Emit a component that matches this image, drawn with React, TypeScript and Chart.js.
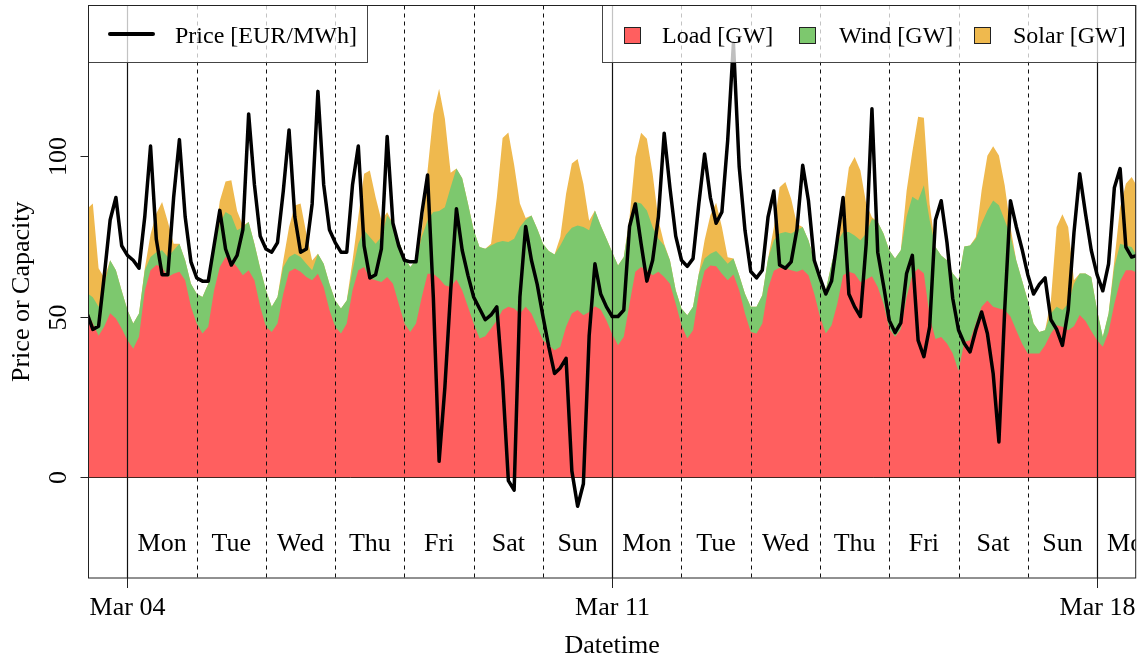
import React, { useEffect, useRef } from 'react';
import { Chart, registerables } from 'chart.js';

Chart.register(...registerables);

// Two-hourly samples, first sample = Mar 03 10:00 (hours counted from Mar 04 00:00)
const startHour = -14;
const stepHours = 2;

const load = [
  51.5, 47.8, 44, 47, 51, 49.4, 46.3,
  42.6, 40, 43.7, 58, 64.4, 66, 65.4, 62.3, 63.3, 63.9, 61.3, 53,
  47.8, 44.7, 46.8, 58, 65.4, 68.5, 67.5, 65.4, 62.8, 64.4, 61.3, 53,
  46.8, 45.2, 47.8, 57.1, 63.9, 64.9, 63.9, 62.3, 61.3, 63.3, 59.2, 52,
  46.8, 44.7, 47.8, 58.2, 64.4, 65.4, 61.8, 61.3, 60.7, 62.3, 60.2, 54,
  47.8, 45.2, 47.8, 56.1, 63.3, 63.3, 61.8, 59.7, 59.2, 61.5, 58.2, 53,
  47.8, 43.2, 43.9, 46.3, 48.8, 52, 53, 52.5, 50.9, 53, 50.9, 46.8,
  42.6, 41.1, 39.5, 40.6, 46.8, 50.9, 52, 50.4, 51.4, 53.2, 52.2, 48.8,
  44.5, 41.1, 43.7, 54, 63.9, 65.4, 64.4, 62.8, 63.9, 62.3, 60.2, 54,
  47.3, 43.2, 45.7, 57.1, 64.2, 65.9, 65.6, 63.3, 61.3, 63.1, 58.2, 50.9,
  45.2, 44.7, 47.8, 58.7, 64.2, 65.2, 64.9, 64.4, 63.9, 64.6, 62.8, 57.1,
  49.9, 44.7, 47.3, 54, 62.8, 63.9, 63.3, 60.7, 61.5, 62.5, 59.2, 54,
  46.3, 43.7, 46, 56, 63, 64.9, 63.4, 50, 43, 43.6, 41.6, 38.5,
  33, 42.1, 42.6, 47.8, 53, 55, 53, 52.5, 52, 50, 45.7, 41.6,
  38.5, 38.5, 38.5, 41.1, 44.7, 47.3, 46.8, 45.7, 47, 50.5, 48.6, 45.5,
  42.6, 40.6, 45.2, 54, 61, 64.4, 64.4, 63.6,
];

const wind = [
  5.8, 8.2, 9, 13, 16.5, 15, 11.7,
  9.4, 7.8, 7.2, 6.4, 4.1, 4, 5.2, 6.2, 7.3, 8.7, 6.2, 7.2,
  9.3, 11.4, 13.4, 13.6, 13.5, 14, 13.9, 11.4, 15, 15, 11.3, 12,
  11.4, 7.8, 8.3, 8.3, 4.6, 4.6, 4.6, 4.1, 3.1, 6.2, 7.2, 8.2,
  8.2, 7.8, 7.2, 6.2, 8.2, 11.4, 12.9, 11.3, 14, 19.1, 18.7, 19.7,
  20.7, 20.2, 19.7, 18.6, 16.6, 19.2, 21, 24.3, 31, 34.5, 34.8, 32.1,
  29, 28.4, 27.2, 25.8, 24.2, 21.5, 20.2, 21.7, 26.9, 27.1, 30.5, 30.5,
  30, 29.3, 29.8, 31.5, 28.7, 26.7, 26.3, 27.4, 25.4, 29.8, 26.1, 25.4,
  25.5, 24.8, 24.8, 25.9, 21.7, 19.7, 18.6, 15, 10.3, 9.8, 7.3, 4.2,
  5.2, 7.2, 7.3, 6.2, 3.8, 3.6, 4.8, 5.2, 5.1, 4.9, 4.6, 6.2,
  7.8, 8.3, 8.8, 9.3, 9.5, 10.6, 11.4, 11.4, 12.9, 13.2, 10.9, 10.4,
  11.4, 13.5, 19.1, 19.2, 13.5, 12.4, 11.9, 13, 14.3, 17.9, 20.2, 21.8,
  24.3, 24.3, 24.6, 25, 24.2, 21.2, 27.4, 29.9, 28.6, 25.4, 25.9, 24.9,
  28.3, 29.7, 29.5, 26.4, 25.9, 28, 33.1, 32.1, 27.9, 25.2, 21.8, 19.7,
  16.5, 9.3, 6.7, 4.6, 6.2, 5.7, 5.2, 8.3, 13.2, 12.9, 14.8, 16.8,
  9.4, 3, 5.7, 11.4, 11.6, 7.7, 7.2, 4.9,
];

const solar = [
  26.2, 29.1, 12, 2, 0, 0, 0,
  0, 0, 0, 0.5, 7, 12, 15, 11, 2, 0, 0, 0,
  0, 0, 0, 0.5, 7, 9.5, 11, 6, 0.5, 0, 0, 0,
  0, 0, 0, 2, 9.3, 15, 16.6, 9.4, 3, 0, 0, 0,
  0, 0, 0, 3, 8.4, 17.6, 20.7, 14.5, 5.2, 1, 0, 0,
  0, 0, 0, 2, 15.5, 30.5, 38, 27.5, 4.5, 0, 0, 0,
  0, 0, 0, 0.5, 14, 32, 34, 23, 7.3, 0.5, 0, 0,
  0, 0, 0, 2.6, 12.7, 20, 20.7, 13.5, 3, 0, 0, 0,
  0, 0, 0, 1, 14, 22, 22.3, 16.6, 5.7, 0.5, 0, 0,
  0, 0, 0, 0, 5.7, 12, 15, 9.3, 2, 0, 0, 0,
  0, 0, 0, 0, 4, 14.4, 15.5, 10.8, 2, 0, 0, 0,
  0, 0, 0, 0, 6.7, 20, 24.4, 21.7, 9.3, 0.5, 0, 0,
  0, 0, 0, 8, 14, 26, 21, 5, 0, 0, 0, 0,
  0, 0, 0, 0.5, 10.3, 17, 16.8, 15.5, 10.9, 2.6, 0, 0,
  0, 0, 0, 0, 4, 24.8, 29.8, 23.8, 1.1, 0, 0, 0,
  0, 0, 0, 2, 11.4, 19.2, 21.8, 21.8,
];

const price = [
  51, 46, 47, 63, 80, 87, 72,
  69, 67.5, 65, 81, 103, 74, 63, 63, 87, 105, 81, 67,
  62, 61, 61, 72, 83, 71, 66, 69, 77, 113, 91, 75,
  71, 70, 73, 89, 108, 81, 70, 71, 85, 120, 91, 77,
  73, 70, 70, 91, 103, 72, 62, 63, 71, 106, 79, 72,
  67.5, 67, 67, 82, 94, 56, 5, 28, 58, 83.5, 70.6, 62.8,
  56, 52.5, 49, 50.5, 53, 30, -1, -4, 56, 78, 67.5, 60,
  50, 40.6, 32.3, 34, 37, 2, -9, -2, 44, 66.4, 57, 53,
  50, 50, 52, 78, 85, 72.6, 61, 67.5, 81, 107, 90, 75,
  67.5, 65.6, 68, 85, 100.5, 87, 79, 82.5, 104.7, 135, 96.5, 76.8,
  64, 62, 64.4, 81, 89, 66, 65, 67, 77, 97, 86, 67.5,
  62, 57, 61, 74, 87, 57, 53, 50, 72.6, 114.6, 70, 59.7,
  48.8, 45, 48, 63.4, 69, 42.6, 37.5, 46.8, 80, 86, 73, 55.6,
  45.8, 41.6, 39, 45.8, 51.4, 44.7, 32.3, 11, 52, 86, 78, 71,
  63, 57, 60, 62, 49, 46, 41, 52, 76, 94.4, 82, 70.6,
  63, 58, 66.4, 90, 96, 71.6, 68.5, 69,
];

const hours = load.map((_, i) => startHour + i * stepHours);

const yTicks = [0, 50, 100];
const xTickHours = [0, 168, 336];
const xTickLabels = ['Mar 04', 'Mar 11', 'Mar 18'];
const dayNames = ['Mon', 'Tue', 'Wed', 'Thu', 'Fri', 'Sat', 'Sun'];
const dayCount = 15;
const seriesLabels = ['Load [GW]', 'Wind [GW]', 'Solar [GW]'];
const priceLabel = 'Price [EUR/MWh]';

const RED = '#FF5F5F';
const GREEN = '#7DC86E';
const ORANGE = '#EFB94E';
const SERIF = '"Liberation Serif", "Times New Roman", Times, serif';

const toPoints = (vals: number[]) => vals.map((v, i) => ({ x: hours[i], y: v }));

function strokeLine(ctx: CanvasRenderingContext2D, x1: number, y1: number, x2: number, y2: number) {
  ctx.beginPath();
  ctx.moveTo(x1, y1);
  ctx.lineTo(x2, y2);
  ctx.stroke();
}

const rPlugin = {
  id: 'rStyle',
  beforeDatasetDraw(chart: any, args: any) {
    if (args.index !== 3) return;
    const { ctx, chartArea: a, scales } = chart;
    const xs = scales.x;
    const ys = scales.y;
    ctx.save();
    ctx.beginPath();
    ctx.rect(a.left, a.top, a.right - a.left, a.bottom - a.top);
    ctx.clip();
    // zero line
    const y0 = ys.getPixelForValue(0);
    ctx.strokeStyle = 'rgba(40,10,10,0.85)';
    ctx.lineWidth = 1;
    strokeLine(ctx, a.left, Math.round(y0) + 0.5, a.right, Math.round(y0) + 0.5);
    // day boundaries
    for (let d = 0; d <= dayCount; d++) {
      const px = Math.round(xs.getPixelForValue(d * 24)) + 0.5;
      if (px < a.left || px > a.right) continue;
      ctx.strokeStyle = '#111';
      if (d % 7 === 0) {
        ctx.setLineDash([]);
        ctx.lineWidth = 1.2;
      } else {
        ctx.setLineDash([4, 4]);
        ctx.lineWidth = 1;
      }
      strokeLine(ctx, px, a.top, px, a.bottom);
    }
    ctx.setLineDash([]);
    // day labels
    ctx.fillStyle = '#000';
    ctx.font = `26px ${SERIF}`;
    ctx.textAlign = 'center';
    ctx.textBaseline = 'alphabetic';
    for (let d = 0; d < dayCount; d++) {
      const px = xs.getPixelForValue(d * 24 + 12);
      ctx.fillText(dayNames[d % 7], px, 551);
    }
    ctx.restore();
  },
  afterDraw(chart: any) {
    const { ctx, chartArea: a, scales } = chart;
    const xs = scales.x;
    const ys = scales.y;
    ctx.save();
    // legends (semi transparent)
    const lTop = a.top;
    const lBot = 62.5;
    ctx.fillStyle = 'rgba(255,255,255,0.75)';
    ctx.fillRect(a.left, lTop, 367.5 - a.left, lBot - lTop);
    ctx.fillRect(602.5, lTop, a.right - 602.5, lBot - lTop);
    ctx.strokeStyle = '#444';
    ctx.lineWidth = 1;
    ctx.strokeRect(a.left, lTop, 367.5 - a.left, lBot - lTop);
    ctx.strokeRect(602.5, lTop, a.right - 602.5, lBot - lTop);
    // price legend entry
    ctx.strokeStyle = '#000';
    ctx.lineWidth = 4;
    ctx.lineCap = 'round';
    strokeLine(ctx, 110, 34, 153, 34);
    ctx.lineCap = 'butt';
    ctx.fillStyle = '#000';
    ctx.font = `24px ${SERIF}`;
    ctx.textAlign = 'left';
    ctx.textBaseline = 'alphabetic';
    ctx.fillText(priceLabel, 175, 42.5);
    // capacity legend entries
    const boxX = [624, 799, 974];
    const textX = [662, 839, 1013];
    const cols = [RED, GREEN, ORANGE];
    ctx.lineWidth = 1;
    for (let i = 0; i < 3; i++) {
      ctx.fillStyle = cols[i];
      ctx.fillRect(boxX[i] + 0.5, 27.5, 16, 16);
      ctx.strokeStyle = '#222';
      ctx.strokeRect(boxX[i] + 0.5, 27.5, 16, 16);
      ctx.fillStyle = '#000';
      ctx.fillText(seriesLabels[i], textX[i], 42.5);
    }
    // plot box
    ctx.strokeStyle = '#222';
    ctx.lineWidth = 1;
    ctx.strokeRect(a.left, a.top, a.right - a.left, a.bottom - a.top);
    // y axis ticks + labels
    ctx.font = `26px ${SERIF}`;
    for (const v of yTicks) {
      const py = Math.round(ys.getPixelForValue(v)) + 0.5;
      strokeLine(ctx, a.left - 8, py, a.left, py);
      ctx.save();
      ctx.translate(66, py);
      ctx.rotate(-Math.PI / 2);
      ctx.textAlign = 'center';
      ctx.textBaseline = 'alphabetic';
      ctx.fillText(String(v), 0, 0);
      ctx.restore();
    }
    // x axis ticks + labels
    ctx.textAlign = 'center';
    ctx.textBaseline = 'alphabetic';
    xTickHours.forEach((h, i) => {
      const px = Math.round(xs.getPixelForValue(h)) + 0.5;
      strokeLine(ctx, px, a.bottom, px, a.bottom + 10);
      ctx.fillText(xTickLabels[i], px, 615);
    });
    // axis titles
    ctx.fillText('Datetime', (a.left + a.right) / 2, 653);
    ctx.save();
    ctx.translate(28.5, (a.top + a.bottom) / 2);
    ctx.rotate(-Math.PI / 2);
    ctx.fillText('Price or Capacity', 0, 0);
    ctx.restore();
    ctx.restore();
  },
};

export default function App() {
  const ref = useRef<HTMLCanvasElement>(null);
  useEffect(() => {
    if (!ref.current) return;
    const chart = new Chart(ref.current, {
      type: 'line',
      data: {
        datasets: [
          {
            label: seriesLabels[0],
            data: toPoints(load),
            stack: 'cap',
            fill: 'origin',
            backgroundColor: RED,
            borderColor: 'rgba(0,0,0,0)',
            borderWidth: 0,
            pointRadius: 0,
            tension: 0,
          },
          {
            label: seriesLabels[1],
            data: toPoints(wind),
            stack: 'cap',
            fill: 'origin',
            backgroundColor: GREEN,
            borderColor: 'rgba(0,0,0,0)',
            borderWidth: 0,
            pointRadius: 0,
            tension: 0,
          },
          {
            label: seriesLabels[2],
            data: toPoints(solar),
            stack: 'cap',
            fill: 'origin',
            backgroundColor: ORANGE,
            borderColor: 'rgba(0,0,0,0)',
            borderWidth: 0,
            pointRadius: 0,
            tension: 0,
          },
          {
            label: priceLabel,
            data: toPoints(price),
            stack: 'price',
            order: -1,
            fill: false,
            borderColor: '#000',
            borderWidth: 3.5,
            borderJoinStyle: 'round',
            borderCapStyle: 'round',
            pointRadius: 0,
            tension: 0,
          },
        ] as any,
      },
      options: {
        responsive: false,
        devicePixelRatio: 1,
        animation: false,
        events: [],
        layout: { padding: { left: 88.5, right: 5.3, top: 5.5, bottom: 79 } },
        scales: {
          x: { type: 'linear', min: -13.5, max: 349.4, display: false },
          y: { type: 'linear', stacked: true, min: -31.3, max: 146.7, display: false },
        },
        plugins: {
          legend: { display: false },
          tooltip: { enabled: false },
          filler: { propagate: false },
        },
      } as any,
      plugins: [rPlugin as any],
    });
    return () => chart.destroy();
  }, []);
  return (
    <div style={{ position: 'fixed', left: 0, top: 0, width: 1141, height: 657, background: '#fff' }}>
      <canvas ref={ref} width={1141} height={657} style={{ display: 'block', width: 1141, height: 657 }} />
    </div>
  );
}
